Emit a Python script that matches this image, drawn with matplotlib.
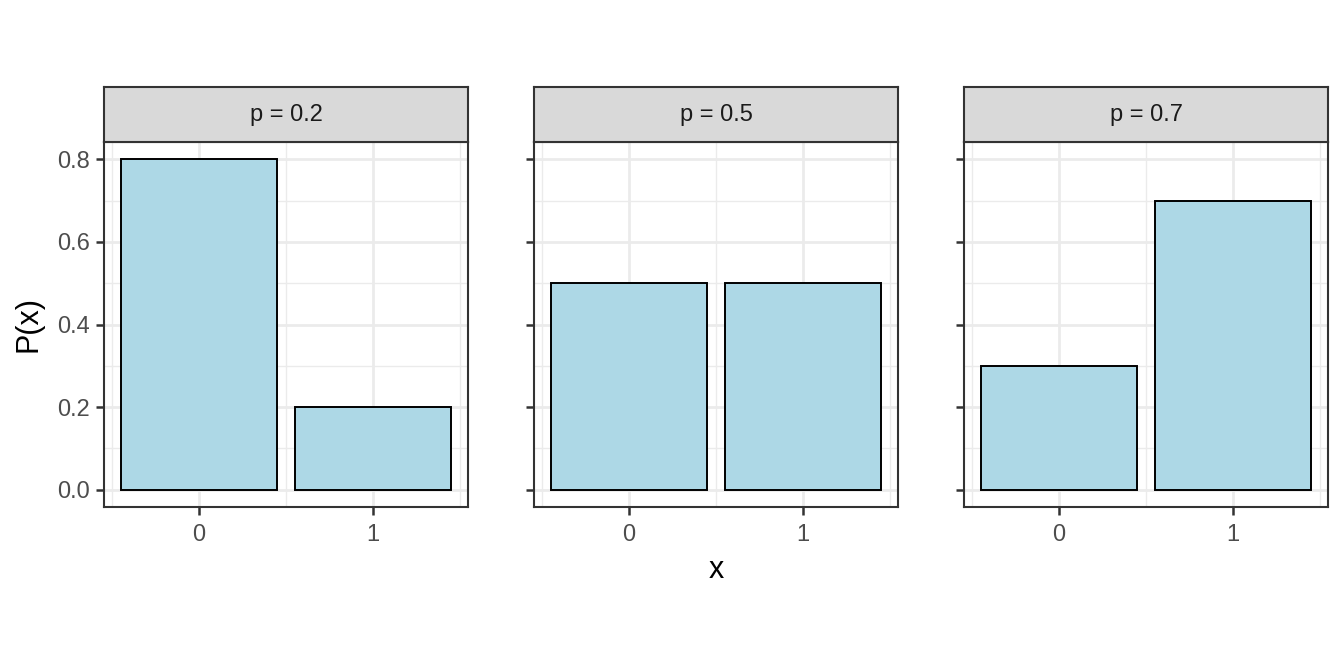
import matplotlib.pyplot as plt

plt.rcParams['font.family'] = ['Liberation Sans', 'DejaVu Sans']

x_vals = [0, 1]
p_labels = ['p = 0.2', 'p = 0.5', 'p = 0.7']
probs = [[0.8, 0.2], [0.5, 0.5], [0.3, 0.7]]

fig = plt.figure(figsize=(13.44, 6.72), dpi=100)
W, H = 1344, 672
lefts = [104, 534, 964]
pw = 364
top, bottom = 142, 507
strip_top = 87

for i, left in enumerate(lefts):
    ax = fig.add_axes([left / W, 1 - bottom / H, pw / W, (bottom - top) / H])
    ax.set_xlim(-0.545, 1.545)
    ax.set_ylim(-0.042, 0.842)
    ax.set_xticks([0, 1])
    ax.set_xticks([-0.5, 0.5, 1.5], minor=True)
    ax.set_yticks([0, 0.2, 0.4, 0.6, 0.8])
    ax.set_yticks([0.1, 0.3, 0.5, 0.7], minor=True)
    ax.grid(which='major', color='#EBEBEB', linewidth=2)
    ax.grid(which='minor', color='#EBEBEB', linewidth=1)
    ax.set_axisbelow(True)
    ax.bar(x_vals, probs[i], width=0.9, color='lightblue', edgecolor='black',
           linewidth=1.4, zorder=3)
    for s in ax.spines.values():
        s.set_color('#333333')
        s.set_linewidth(1.5)
    ax.tick_params(which='major', length=6, width=1.8, color='#333333',
                   labelsize=17, labelcolor='#4D4D4D', pad=4)
    ax.tick_params(axis='x', which='major', pad=6)
    ax.tick_params(which='minor', length=0)
    if i == 0:
        ax.set_yticklabels(['0.0', '0.2', '0.4', '0.6', '0.8'])
    else:
        ax.set_yticklabels([])

    # facet strip
    sax = fig.add_axes([left / W, 1 - top / H, pw / W, (top - strip_top) / H])
    sax.set_xticks([])
    sax.set_yticks([])
    sax.set_facecolor('#D9D9D9')
    for s in sax.spines.values():
        s.set_color('#333333')
        s.set_linewidth(1.5)
    sax.text(0.5, 0.5, p_labels[i], ha='center', va='center', fontsize=17,
             color='#1A1A1A', transform=sax.transAxes)

fig.text(28 / W, 1 - 324 / H, 'P(x)', rotation=90, ha='center', va='center',
         fontsize=22)
fig.text(716 / W, 1 - 570 / H, 'x', ha='center', va='center', fontsize=22)

fig.savefig('out.png', dpi=100)
